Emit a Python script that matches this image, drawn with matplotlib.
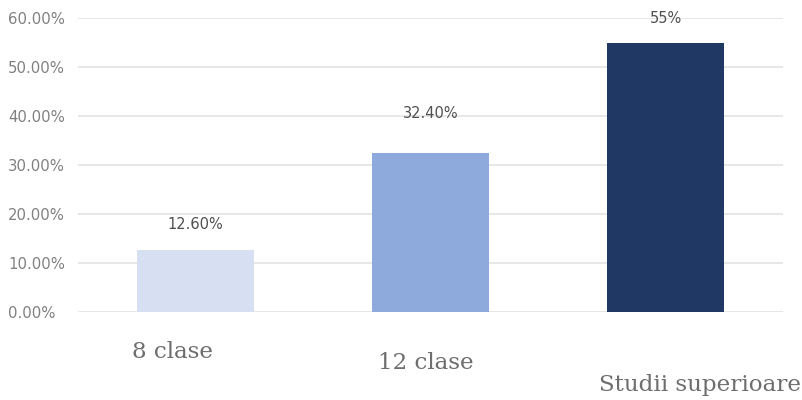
import matplotlib
matplotlib.use("Agg")
import matplotlib.pyplot as plt
from matplotlib.transforms import blended_transform_factory

categories = ["8 clase", "12 clase", "Studii superioare"]
values = [12.6, 32.4, 55.0]
value_labels = ["12.60%", "32.40%", "55%"]
yticks = [0, 10, 20, 30, 40, 50, 60]
ytick_labels = ["0.00%", "10.00%", "20.00%", "30.00%", "40.00%", "50.00%", "60.00%"]

colors = ["#D6E0F2", "#8EA9DB", "#203864"]
label_offsets_px = [26, 40, 24]
cat_dx = [-0.27, -0.225, -0.285]
cat_y_px = [352, 363, 385]

W, H = 803, 400
fig = plt.figure(figsize=(W / 100, H / 100), dpi=100)
ax = fig.add_axes([78 / W, 88 / H, 705 / W, 294 / H])

x = list(range(len(categories)))
ax.bar(x, values, width=0.5, color=colors, zorder=2)
ax.set_xlim(-0.5, 2.5)
ax.set_ylim(0, 60)
ax.set_yticks(yticks)
ax.set_yticklabels(ytick_labels, fontsize=10.7, color="#808080", family="DejaVu Sans")
for lab in ax.get_yticklabels():
    lab.set_ha("left")
ax.tick_params(axis="y", length=0, pad=70 * 0.72)
ax.set_xticks([])
ax.grid(axis="y", color="#e3e3e3", linewidth=1.2, zorder=0)
for s in ax.spines.values():
    s.set_visible(False)

for xi, v, lab, off in zip(x, values, value_labels, label_offsets_px):
    ax.annotate(lab, (xi, v), xytext=(0, off * 0.72), textcoords="offset points",
                ha="center", va="center", fontsize=10.5, color="#505050",
                family="DejaVu Sans", annotation_clip=False)

tr = blended_transform_factory(ax.transData, fig.transFigure)
for xi, c, dx, yp in zip(x, categories, cat_dx, cat_y_px):
    ax.text(xi + dx, 1 - yp / H, c, transform=tr, ha="left", va="center",
            fontsize=16.6, color="#6e6e6e", family="DejaVu Serif", clip_on=False)

fig.savefig("out.png", dpi=100)
